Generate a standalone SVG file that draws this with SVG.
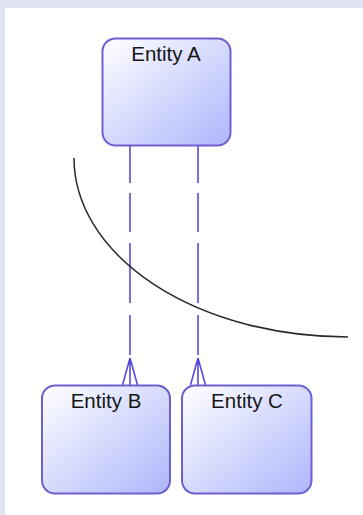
<svg xmlns="http://www.w3.org/2000/svg" width="363" height="515" viewBox="0 0 363 515">
  <defs>
    <linearGradient id="boxFill" x1="0" y1="0" x2="1" y2="1">
      <stop offset="0" stop-color="#ffffff"/>
      <stop offset="1" stop-color="#adb6fb"/>
    </linearGradient>
    <style>
      .box { fill: url(#boxFill); stroke: #6f5fcf; stroke-width: 2; }
      .label { font-family: "Liberation Sans", Arial, sans-serif; font-size: 20.5px; fill: #151515; text-anchor: middle; }
      .rel { stroke: #5b4bd6; stroke-width: 1.6; fill: none; }
      .dash { stroke-dasharray: 37 10 39 11 60 12 40 10; }
      .curve { stroke: #2a2a2a; stroke-width: 1.5; fill: none; }
    </style>
  </defs>
  <rect x="0" y="0" width="363" height="515" fill="#e0e3f2"/>
  <rect x="5" y="8" width="358" height="507" fill="#ffffff"/>

  <g id="connectors">
    <path class="rel dash" d="M130,146 L130,360"/>
    <path class="rel dash" d="M198,146 L198,360"/>
    <path class="rel" d="M130,358 L130,385 M130,358 L122.5,385 M130,358 L137.5,385"/>
    <path class="rel" d="M198,358 L198,385 M198,358 L190.5,385 M198,358 L205.5,385"/>
  </g>

  <path id="curve" class="curve" d="M74,158 A274,179 0 0,0 348,337"/>

  <g id="entityA">
    <rect class="box" x="102.5" y="38.5" width="128" height="107" rx="13"/>
    <text class="label" x="166" y="61">Entity A</text>
  </g>
  <g id="entityB">
    <rect class="box" x="42" y="385.5" width="128" height="108" rx="13"/>
    <text class="label" x="106" y="408">Entity B</text>
  </g>
  <g id="entityC">
    <rect class="box" x="182" y="385.5" width="129.5" height="108" rx="13"/>
    <text class="label" x="247" y="408">Entity C</text>
  </g>
</svg>
